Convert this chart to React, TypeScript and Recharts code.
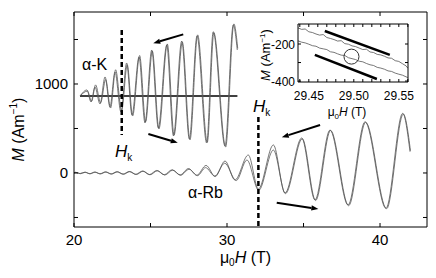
import React from 'react';
import { LineChart, Line, XAxis, YAxis, ReferenceLine, ReferenceDot } from 'recharts';

const FONT = '"Liberation Sans", Arial, Helvetica, sans-serif';

// main panel axes
const fieldTicks = [20, 25, 30, 35, 40];
const fieldLabels = [20, 30, 40];
const magTicks = [-500, 0, 500, 1000, 1500];
const magLabels = [0, 1000];

// inset axes
const insetFieldTicks = [29.44, 29.45, 29.46, 29.47, 29.48, 29.49, 29.5, 29.51, 29.52, 29.53, 29.54, 29.55, 29.56];
const insetFieldLabels = [29.45, 29.5, 29.55];
const insetMagTicks = [-400, -300, -200];
const insetMagLabels = [-400, -200];

// alpha-K, two sweeps (field T, magnetisation A/m)
const kSweepA = [
  [20.39, 865], [20.85, 933], [21.11, 798], [21.37, 966], [21.7, 775], [22.03, 1079], [22.35, 742],
  [22.68, 1135], [23.07, 685], [23.44, 1236], [23.79, 652], [24.25, 1303], [24.64, 562], [25.08, 1382],
  [25.51, 506], [26.06, 1438], [26.5, 416], [27.04, 1483], [27.54, 382], [28.04, 1539], [28.67, 337],
  [29.1, 1588], [29.87, 303], [30.41, 1663], [30.67, 1382],
];
const kSweepB = [
  [20.42, 870], [20.88, 920], [21.15, 805], [21.41, 990], [21.74, 790], [22.07, 1050], [22.39, 730],
  [22.72, 1160], [23.11, 700], [23.48, 1215], [23.83, 640], [24.29, 1320], [24.68, 575], [25.12, 1370],
  [25.55, 495], [26.1, 1450], [26.54, 425], [27.08, 1470], [27.58, 372], [28.08, 1552], [28.71, 345],
  [29.14, 1575], [29.91, 292], [30.45, 1675], [30.7, 1400],
];
const kBaseline = [[20.39, 865], [30.68, 865]];

// alpha-Rb, two sweeps
const rbSweepA = [
  [20.0, 0], [20.1, 8], [20.38, -7], [20.7, 9], [21.02, -8], [21.35, 10], [21.69, -9], [22.05, 12],
  [22.42, -11], [22.8, 14], [23.2, -13], [23.61, 17], [24.03, -15], [24.48, 22], [24.93, -18],
  [25.41, 28], [25.9, -20], [26.41, 36], [26.93, -22], [27.48, 50], [28.03, -25], [28.63, 85],
  [29.23, -40], [29.87, 135], [30.52, -79], [31.39, 202], [32.05, -180], [33.03, 315], [33.79, -225],
  [34.88, 393], [35.75, -303], [36.73, 483], [37.91, -360], [39.02, 576], [40.39, -397], [41.48, 671],
  [41.96, 239],
];
const rbSweepB = [
  [20.0, 0], [20.14, 6], [20.42, -8], [20.74, 8], [21.06, -9], [21.39, 9], [21.73, -10], [22.09, 11],
  [22.46, -12], [22.84, 13], [23.24, -14], [23.65, 15], [24.07, -17], [24.52, 20], [24.97, -20],
  [25.45, 25], [25.94, -23], [26.45, 32], [26.97, -26], [27.52, 42], [28.07, -30], [28.6, 60],
  [29.2, -35], [29.85, 110], [30.6, -85], [31.3, 146], [32.07, -195], [33.03, 258], [33.82, -232],
  [34.92, 385], [35.79, -310], [36.77, 478], [37.95, -368], [39.06, 570], [40.43, -402], [41.52, 662],
  [41.99, 250],
];

// inset: zoom around 29.5 T, two sweeps
const insetUp = [
  [29.438, -113], [29.442, -121], [29.446, -119], [29.45, -134], [29.454, -138], [29.458, -146],
  [29.462, -152], [29.466, -149], [29.47, -165], [29.474, -170], [29.478, -176], [29.482, -184],
  [29.486, -182], [29.49, -198], [29.494, -201], [29.498, -210], [29.502, -214], [29.506, -222],
  [29.51, -230], [29.514, -228], [29.518, -243], [29.522, -246], [29.526, -256], [29.53, -259],
  [29.534, -266], [29.538, -275], [29.542, -277], [29.546, -290], [29.55, -294], [29.554, -306],
  [29.558, -318], [29.56, -330],
];
const insetDown = [
  [29.438, -183], [29.442, -190], [29.446, -194], [29.45, -201], [29.454, -209], [29.458, -212],
  [29.462, -222], [29.466, -226], [29.47, -230], [29.474, -242], [29.478, -245], [29.482, -253],
  [29.486, -260], [29.49, -262], [29.494, -274], [29.498, -279], [29.502, -284], [29.506, -293],
  [29.51, -296], [29.514, -305], [29.518, -312], [29.522, -316], [29.526, -326], [29.53, -330],
  [29.534, -336], [29.538, -345], [29.542, -348], [29.546, -357], [29.55, -363], [29.554, -368],
  [29.558, -377], [29.56, -381],
];

const rows = (pairs: number[][]) => pairs.map(([t, m]) => ({ t, m }));

const near = (list: number[], v: number) => list.some((l) => Math.abs(l - v) < 1e-6);

const arrow = (headAtStart: boolean) => (p: any) => {
  const { x1, y1, x2, y2 } = p;
  const [hx, hy, tx, ty] = headAtStart ? [x1, y1, x2, y2] : [x2, y2, x1, y1];
  const len = Math.hypot(hx - tx, hy - ty) || 1;
  const ux = (hx - tx) / len;
  const uy = (hy - ty) / len;
  const bx = hx - ux * 7;
  const by = hy - uy * 7;
  return (
    <g>
      <line x1={tx} y1={ty} x2={bx} y2={by} stroke="#000" strokeWidth={2} />
      <polygon points={`${hx},${hy} ${bx - uy * 2.6},${by + ux * 2.6} ${bx + uy * 2.6},${by - ux * 2.6}`} fill="#000" />
    </g>
  );
};

const textAt = (content: React.ReactNode, size = 15) => (p: any) => (
  <text x={p.cx} y={p.cy} fontSize={size} fontFamily={FONT} fill="#000">
    {content}
  </text>
);

const Hk = (
  <>
    <tspan fontStyle="italic" fontSize={17}>H</tspan>
    <tspan fontSize={10} dy={4}>k</tspan>
  </>
);

const App = () => {
  // axes are 1px thick boxes, so margins are 1px smaller than the plot edges
  const mainMargin = { top: 11, right: 8, bottom: 50, left: 73 };
  const insetMargin = { top: 23, right: 27, bottom: 195, left: 297 };

  return (
    <div style={{ position: 'absolute', left: 0, top: 0, width: 436, height: 278, background: '#fff' }}>
      <div style={{ position: 'absolute', left: 0, top: 0 }}>
        <LineChart width={436} height={278} margin={mainMargin}>
          <XAxis
            xAxisId="b" type="number" dataKey="t" domain={[20, 43.07]} allowDataOverflow ticks={fieldTicks}
            interval={0} height={1} tickSize={0} tickMargin={0} tickLine={false} axisLine={{ stroke: '#000' }}
            tick={(p: any) => (
              <g>
                <line x1={p.x} x2={p.x} y1={p.y} y2={p.y - 4} stroke="#000" />
                {near(fieldLabels, p.payload.value) && (
                  <text x={p.x} y={p.y + 18} textAnchor="middle" fontSize={15} fontFamily={FONT} fill="#000">
                    {p.payload.value}
                  </text>
                )}
              </g>
            )}
            label={(p: any) => {
              const vb = p.viewBox;
              return (
                <text x={vb.x + vb.width / 2 - 5} y={vb.y + 36} textAnchor="middle" fontSize={16} fontFamily={FONT} fill="#000">
                  μ<tspan fontSize={10} dy={3}>0</tspan>
                  <tspan fontStyle="italic" dy={-3}>H</tspan> (T)
                </text>
              );
            }}
          />
          <XAxis
            xAxisId="t" orientation="top" type="number" dataKey="t" domain={[20, 43.07]} allowDataOverflow
            ticks={fieldTicks} interval={0} height={1} tickSize={0} tickMargin={0} tickLine={false}
            axisLine={{ stroke: '#000' }}
            tick={(p: any) => <line x1={p.x} x2={p.x} y1={p.y} y2={p.y + 4} stroke="#000" />}
          />
          <YAxis
            yAxisId="l" type="number" domain={[-607, 1809]} allowDataOverflow ticks={magTicks} interval={0}
            width={1} tickSize={0} tickMargin={0} tickLine={false} axisLine={{ stroke: '#000' }}
            tick={(p: any) => (
              <g>
                <line x1={p.x} x2={p.x + 4} y1={p.y} y2={p.y} stroke="#000" />
                {near(magLabels, p.payload.value) && (
                  <text x={p.x - 6} y={p.y + 5.5} textAnchor="end" fontSize={15} fontFamily={FONT} fill="#000">
                    {p.payload.value}
                  </text>
                )}
              </g>
            )}
            label={(p: any) => {
              const vb = p.viewBox;
              const cx = vb.x - 49;
              const cy = vb.y + vb.height / 2 + 10;
              return (
                <text x={cx} y={cy} transform={`rotate(-90 ${cx} ${cy})`} textAnchor="middle" fontSize={16} fontFamily={FONT} fill="#000">
                  <tspan fontStyle="italic">M</tspan> (Am
                  <tspan fontSize={10} dy={-7}>−1</tspan>
                  <tspan dy={7}>)</tspan>
                </text>
              );
            }}
          />
          <YAxis
            yAxisId="r" orientation="right" type="number" domain={[-607, 1809]} allowDataOverflow ticks={magTicks}
            interval={0} width={1} tickSize={0} tickMargin={0} tickLine={false} axisLine={{ stroke: '#000' }}
            tick={(p: any) => <line x1={p.x} x2={p.x - 4} y1={p.y} y2={p.y} stroke="#000" />}
          />

          <Line xAxisId="b" yAxisId="l" data={rows(kBaseline)} dataKey="m" type="linear" stroke="#000" strokeWidth={1.3} dot={false} isAnimationActive={false} />
          <Line xAxisId="b" yAxisId="l" data={rows(kSweepA)} dataKey="m" type="monotone" stroke="#555" strokeWidth={0.8} dot={false} isAnimationActive={false} />
          <Line xAxisId="b" yAxisId="l" data={rows(kSweepB)} dataKey="m" type="monotone" stroke="#555" strokeWidth={0.8} dot={false} isAnimationActive={false} />
          <Line xAxisId="b" yAxisId="l" data={rows(rbSweepA)} dataKey="m" type="monotone" stroke="#555" strokeWidth={0.8} dot={false} isAnimationActive={false} />
          <Line xAxisId="b" yAxisId="l" data={rows(rbSweepB)} dataKey="m" type="monotone" stroke="#555" strokeWidth={0.8} dot={false} isAnimationActive={false} />

          {/* H_k markers */}
          <ReferenceLine xAxisId="b" yAxisId="l" segment={[{ x: 23.12, y: 1607 }, { x: 23.12, y: 427 }]} stroke="#000" strokeWidth={2.5} strokeDasharray="5 3" />
          <ReferenceLine xAxisId="b" yAxisId="l" segment={[{ x: 32.05, y: 629 }, { x: 32.05, y: -600 }]} stroke="#000" strokeWidth={2.5} strokeDasharray="5 3" />

          {/* sweep direction arrows */}
          <ReferenceLine xAxisId="b" yAxisId="l" segment={[{ x: 25.18, y: 1457 }, { x: 27.14, y: 1558 }]} shape={arrow(true)} />
          <ReferenceLine xAxisId="b" yAxisId="l" segment={[{ x: 24.86, y: 438 }, { x: 26.78, y: 340 }]} shape={arrow(false)} />
          <ReferenceLine xAxisId="b" yAxisId="l" segment={[{ x: 33.58, y: 401 }, { x: 36.08, y: 539 }]} shape={arrow(true)} />
          <ReferenceLine xAxisId="b" yAxisId="l" segment={[{ x: 33.25, y: -334 }, { x: 35.97, y: -404 }]} shape={arrow(false)} />

          <ReferenceDot xAxisId="b" yAxisId="l" x={20.52} y={1157} r={0} shape={textAt('α-K', 16)} />
          <ReferenceDot xAxisId="b" yAxisId="l" x={27.45} y={-281} r={0} shape={textAt('α-Rb', 16)} />
          <ReferenceDot xAxisId="b" yAxisId="l" x={22.68} y={180} r={0} shape={textAt(Hk)} />
          <ReferenceDot xAxisId="b" yAxisId="l" x={31.7} y={685} r={0} shape={textAt(Hk)} />
        </LineChart>
      </div>

      <div style={{ position: 'absolute', left: 0, top: 0 }}>
        <LineChart width={436} height={278} margin={insetMargin}>
          <XAxis
            xAxisId="b" type="number" dataKey="t" domain={[29.438, 29.5602]} allowDataOverflow ticks={insetFieldTicks}
            interval={0} height={1} tickSize={0} tickMargin={0} tickLine={false} axisLine={{ stroke: '#000' }}
            tick={(p: any) => (
              <g>
                <line x1={p.x} x2={p.x} y1={p.y} y2={p.y - 3} stroke="#000" />
                {near(insetFieldLabels, p.payload.value) && (
                  <text x={p.x} y={p.y + 18} textAnchor="middle" fontSize={12} fontFamily={FONT} fill="#000">
                    {p.payload.value.toFixed(2)}
                  </text>
                )}
              </g>
            )}
            label={(p: any) => {
              const vb = p.viewBox;
              return (
                <text x={vb.x + vb.width / 2 - 6} y={vb.y + 34} textAnchor="middle" fontSize={12} fontFamily={FONT} fill="#000">
                  μ<tspan fontSize={8} dy={3}>0</tspan>
                  <tspan fontStyle="italic" dy={-3}>H</tspan> (T)
                </text>
              );
            }}
          />
          <XAxis
            xAxisId="t" orientation="top" type="number" dataKey="t" domain={[29.438, 29.5602]} allowDataOverflow
            ticks={insetFieldTicks} interval={0} height={1} tickSize={0} tickMargin={0} tickLine={false}
            axisLine={{ stroke: '#000' }}
            tick={(p: any) => <line x1={p.x} x2={p.x} y1={p.y} y2={p.y + 3} stroke="#000" />}
          />
          <YAxis
            yAxisId="l" type="number" domain={[-405, -92]} allowDataOverflow ticks={insetMagTicks} interval={0}
            width={1} tickSize={0} tickMargin={0} tickLine={false} axisLine={{ stroke: '#000' }}
            tick={(p: any) => (
              <g>
                <line x1={p.x} x2={p.x + 3} y1={p.y} y2={p.y} stroke="#000" />
                {near(insetMagLabels, p.payload.value) && (
                  <text x={p.x - 3} y={p.y + 4.5} textAnchor="end" fontSize={12} fontFamily={FONT} fill="#000">
                    {p.payload.value}
                  </text>
                )}
              </g>
            )}
            label={(p: any) => {
              const vb = p.viewBox;
              const cx = vb.x - 27;
              const cy = vb.y + vb.height / 2 + 2;
              return (
                <text x={cx} y={cy} transform={`rotate(-90 ${cx} ${cy})`} textAnchor="middle" fontSize={13} fontFamily={FONT} fill="#000">
                  <tspan fontStyle="italic">M</tspan> (Am
                  <tspan fontSize={8} dy={-5}>−1</tspan>
                  <tspan dy={5}>)</tspan>
                </text>
              );
            }}
          />
          <YAxis
            yAxisId="r" orientation="right" type="number" domain={[-405, -92]} allowDataOverflow ticks={insetMagTicks}
            interval={0} width={1} tickSize={0} tickMargin={0} tickLine={false} axisLine={{ stroke: '#000' }}
            tick={(p: any) => <line x1={p.x} x2={p.x - 3} y1={p.y} y2={p.y} stroke="#000" />}
          />

          <Line xAxisId="b" yAxisId="l" data={rows(insetUp)} dataKey="m" type="linear" stroke="#555" strokeWidth={0.8} dot={false} isAnimationActive={false} />
          <Line xAxisId="b" yAxisId="l" data={rows(insetDown)} dataKey="m" type="linear" stroke="#555" strokeWidth={0.8} dot={false} isAnimationActive={false} />

          <ReferenceLine xAxisId="b" yAxisId="l" segment={[{ x: 29.4678, y: -130 }, { x: 29.54, y: -259 }]} stroke="#000" strokeWidth={2.5} />
          <ReferenceLine xAxisId="b" yAxisId="l" segment={[{ x: 29.4567, y: -259 }, { x: 29.5256, y: -389 }]} stroke="#000" strokeWidth={2.5} />
          <ReferenceDot xAxisId="b" yAxisId="l" x={29.4974} y={-268} r={7.5} fill="none" stroke="#333" strokeWidth={1} />
        </LineChart>
      </div>
    </div>
  );
};

export default App;
